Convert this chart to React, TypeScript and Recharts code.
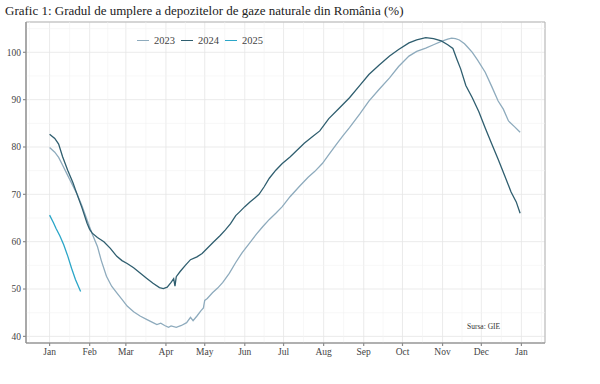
import { LineChart, Line, XAxis, YAxis, CartesianGrid, ReferenceLine, ReferenceArea } from 'recharts';

// zi din an (0 = 1 ianuarie)
const DAYS_2023 = [0, 4, 7, 10, 14, 18, 21, 25, 29, 33, 37, 40, 44, 48, 52, 56, 60, 65, 70, 75, 80, 83, 86, 89, 92, 94, 98, 102, 106, 109, 111, 114, 117, 119, 120, 122, 126, 130, 134, 139, 144, 149, 155, 160, 165, 170, 175, 180, 186, 193, 200, 205, 211, 216, 222, 227, 232, 240, 247, 255, 263, 270, 278, 284, 291, 297, 303, 308, 311, 314, 317, 321, 324, 327, 331, 337, 342, 347, 351, 355, 360, 364];
const VALUES_2023 = [79.9, 78.9, 77.8, 76.2, 74.0, 71.8, 70.2, 67.6, 64.6, 61.6, 59.0, 56.0, 52.7, 50.6, 49.2, 47.8, 46.4, 45.2, 44.3, 43.6, 42.9, 42.5, 42.8, 42.3, 41.9, 42.2, 41.9, 42.3, 42.9, 44.0, 43.3, 44.3, 45.4, 46.0, 47.6, 48.0, 49.2, 50.2, 51.4, 53.3, 55.6, 57.7, 59.8, 61.6, 63.2, 64.7, 66.0, 67.4, 69.5, 71.6, 73.6, 74.8, 76.5, 78.4, 80.6, 82.4, 84.1, 87.0, 89.7, 92.2, 94.6, 97.0, 99.2, 100.2, 100.9, 101.6, 102.3, 102.8, 103.0, 102.9, 102.6, 101.8, 100.9, 100.0, 98.4, 95.8, 92.8, 89.7, 88.0, 85.5, 84.2, 83.1];

const DAYS_2024 = [0, 4, 7, 10, 14, 18, 21, 25, 29, 31, 33, 37, 42, 47, 52, 56, 60, 65, 70, 75, 80, 85, 88, 91, 94, 96, 97, 98, 101, 105, 109, 114, 118, 122, 127, 132, 136, 140, 144, 147, 151, 155, 159, 162, 166, 170, 175, 180, 186, 191, 197, 203, 209, 216, 224, 232, 240, 247, 255, 263, 270, 278, 284, 291, 297, 303, 308, 312, 315, 318, 322, 327, 332, 337, 342, 347, 352, 357, 361, 364];
const VALUES_2024 = [82.7, 81.8, 80.6, 78.0, 75.1, 72.5, 70.2, 67.2, 63.9, 62.6, 61.8, 60.9, 60.0, 58.6, 56.9, 56.0, 55.4, 54.5, 53.4, 52.3, 51.2, 50.3, 50.1, 50.4, 51.4, 52.2, 50.6, 52.6, 53.7, 55.0, 56.2, 56.8, 57.5, 58.6, 60.0, 61.3, 62.5, 63.8, 65.5, 66.3, 67.4, 68.4, 69.3, 70.0, 71.6, 73.4, 75.1, 76.5, 77.9, 79.2, 80.8, 82.1, 83.4, 86.0, 88.2, 90.4, 93.0, 95.3, 97.3, 99.2, 100.6, 102.0, 102.6, 103.1, 102.9, 102.4, 101.6, 100.8, 98.6, 96.5, 93.0, 90.4, 87.5, 84.0, 80.7, 77.4, 74.0, 70.5, 68.4, 66.0];

const DAYS_2025 = [0, 3, 5, 8, 11, 14, 17, 20, 24];
const VALUES_2025 = [65.6, 64.0, 62.8, 61.2, 59.3, 57.0, 54.4, 52.0, 49.5];

const MONTH_STARTS = [0, 31, 59, 90, 120, 151, 181, 212, 243, 273, 304, 334, 365];
const MONTH_LABELS = ['Jan', 'Feb', 'Mar', 'Apr', 'May', 'Jun', 'Jul', 'Aug', 'Sep', 'Oct', 'Nov', 'Dec', 'Jan'];
const Y_TICKS = [40, 50, 60, 70, 80, 90, 100];
const Y_MINOR = [45, 55, 65, 75, 85, 95, 105];

const X_DOMAIN: [number, number] = [-18.25, 383.25];
const Y_DOMAIN: [number, number] = [38.6, 106.4];

const SERIES = [
  { name: '2023', days: DAYS_2023, values: VALUES_2023, color: '#8eabbd' },
  { name: '2024', days: DAYS_2024, values: VALUES_2024, color: '#2f5e6f' },
  { name: '2025', days: DAYS_2025, values: VALUES_2025, color: '#2ba6c8' },
];

const toRows = (days: number[], values: number[]) => days.map((d, i) => ({ day: d, value: values[i] }));

// linii secundare de grila, la jumatatea lunilor
const xMinor = [-15.5, ...MONTH_STARTS.slice(0, -1).map((m, i) => (m + MONTH_STARTS[i + 1]) / 2), 380.5];

const FONT = '"Liberation Serif", "DejaVu Serif", serif';

const App = () => {
  return (
    <div style={{ position: 'absolute', left: 0, top: 0, width: 600, height: 384, background: '#fff', fontFamily: FONT }}>
      <div style={{ position: 'absolute', left: 5, top: 3, fontSize: 13, color: '#222', whiteSpace: 'nowrap' }}>
        Grafic 1: Gradul de umplere a depozitelor de gaze naturale din România (%)
      </div>
      <div style={{ position: 'absolute', left: 137, top: 35, display: 'flex', alignItems: 'center', fontSize: 10.5, color: '#444', zIndex: 2 }}>
        {SERIES.map((s) => (
          <span key={s.name} style={{ display: 'flex', alignItems: 'center', marginRight: 6 }}>
            <span style={{ display: 'inline-block', width: 12, height: 1.5, background: s.color, marginRight: 5 }} />
            {s.name}
          </span>
        ))}
      </div>
      <div style={{ position: 'absolute', left: 467, top: 322, fontSize: 7.5, color: '#333', zIndex: 2 }}>Sursa: GIE</div>
      <LineChart width={600} height={384} margin={{ top: 22, right: 55, bottom: 0, left: 0 }}>
        <CartesianGrid stroke="#e6e6e6" strokeWidth={0.8} />
        {xMinor.map((x) => (
          <ReferenceLine key={`xm-${x}`} x={x} stroke="#f1f1f1" strokeWidth={0.6} ifOverflow="hidden" />
        ))}
        {Y_MINOR.map((y) => (
          <ReferenceLine key={`ym-${y}`} y={y} stroke="#f1f1f1" strokeWidth={0.6} ifOverflow="hidden" />
        ))}
        <ReferenceArea x1={X_DOMAIN[0]} x2={X_DOMAIN[1]} y1={Y_DOMAIN[0]} y2={Y_DOMAIN[1]} fill="none" stroke="#b5b5b5" strokeWidth={1} />
        <XAxis
          type="number"
          dataKey="day"
          domain={X_DOMAIN}
          ticks={MONTH_STARTS}
          tickFormatter={(v: number) => MONTH_LABELS[MONTH_STARTS.indexOf(v)]}
          height={41}
          tickSize={3}
          tickMargin={2}
          stroke="#8c8c8c"
          strokeWidth={1.2}
          tick={{ fill: '#444', fontSize: 9.5, fontFamily: FONT }}
          allowDataOverflow
        />
        <YAxis
          type="number"
          domain={Y_DOMAIN}
          ticks={Y_TICKS}
          width={26}
          tickSize={3}
          tickMargin={2}
          stroke="#8c8c8c"
          strokeWidth={1.2}
          tick={{ fill: '#444', fontSize: 9.5, fontFamily: FONT }}
          allowDataOverflow
        />
        {SERIES.map((s) => (
          <Line
            key={s.name}
            data={toRows(s.days, s.values)}
            dataKey="value"
            name={s.name}
            type="linear"
            stroke={s.color}
            strokeWidth={1.3}
            dot={false}
            isAnimationActive={false}
          />
        ))}
      </LineChart>
    </div>
  );
};

export default App;
